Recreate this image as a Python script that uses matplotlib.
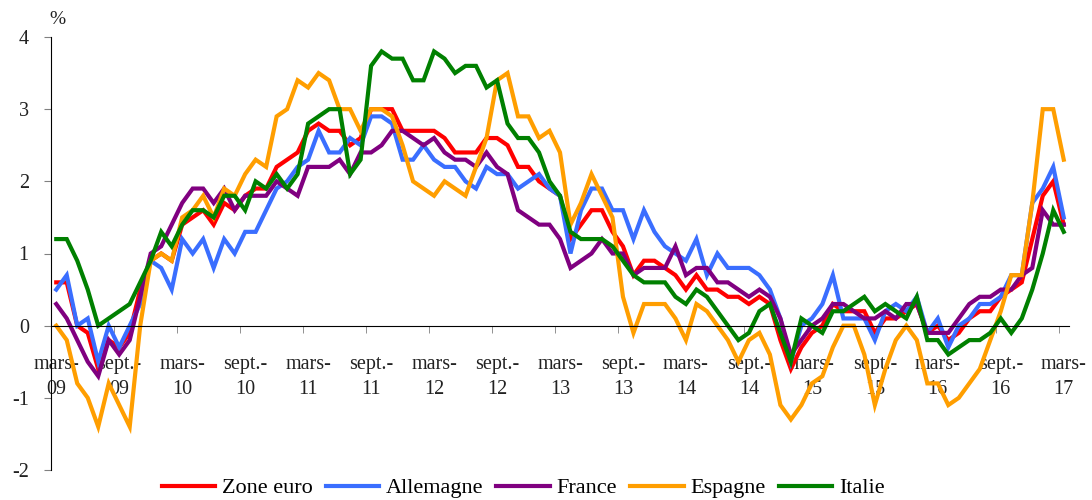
import numpy as np
import matplotlib.pyplot as plt

# monthly inflation, mars 2009 -> mars 2017
zone_euro = [0.6, 0.6, 0.0, -0.1, -0.6, -0.2, -0.3, -0.1, 0.5, 0.9,
             1.0, 0.9, 1.4, 1.5, 1.6, 1.4, 1.7, 1.6, 1.8, 1.9,
             1.9, 2.2, 2.3, 2.4, 2.7, 2.8, 2.7, 2.7, 2.5, 2.6,
             3.0, 3.0, 3.0, 2.7, 2.7, 2.7, 2.7, 2.6, 2.4, 2.4,
             2.4, 2.6, 2.6, 2.5, 2.2, 2.2, 2.0, 1.9, 1.8, 1.2,
             1.4, 1.6, 1.6, 1.3, 1.1, 0.7, 0.9, 0.9, 0.8, 0.7,
             0.5, 0.7, 0.5, 0.5, 0.4, 0.4, 0.3, 0.4, 0.3, -0.2,
             -0.6, -0.3, -0.1, 0.0, 0.3, 0.2, 0.2, 0.2, -0.1, 0.1,
             0.1, 0.2, 0.3, -0.1, 0.0, -0.2, -0.1, 0.1, 0.2, 0.2,
             0.4, 0.5, 0.6, 1.2, 1.8, 2.0, 1.4]
allemagne = [0.5, 0.7, 0.0, 0.1, -0.5, 0.0, -0.3, 0.0, 0.3, 0.9,
             0.8, 0.5, 1.2, 1.0, 1.2, 0.8, 1.2, 1.0, 1.3, 1.3,
             1.6, 1.9, 2.0, 2.2, 2.3, 2.7, 2.4, 2.4, 2.6, 2.5,
             2.9, 2.9, 2.8, 2.3, 2.3, 2.5, 2.3, 2.2, 2.2, 2.0,
             1.9, 2.2, 2.1, 2.1, 1.9, 2.0, 2.1, 1.9, 1.8, 1.0,
             1.6, 1.9, 1.9, 1.6, 1.6, 1.2, 1.6, 1.3, 1.1, 1.0,
             0.9, 1.2, 0.7, 1.0, 0.8, 0.8, 0.8, 0.7, 0.5, 0.1,
             -0.5, 0.0, 0.1, 0.3, 0.7, 0.1, 0.1, 0.1, -0.2, 0.2,
             0.3, 0.2, 0.4, -0.1, 0.1, -0.3, 0.0, 0.1, 0.3, 0.3,
             0.4, 0.7, 0.7, 1.7, 1.9, 2.2, 1.5]
france = [0.3, 0.1, -0.2, -0.5, -0.7, -0.2, -0.4, -0.2, 0.4, 1.0,
          1.1, 1.4, 1.7, 1.9, 1.9, 1.7, 1.9, 1.6, 1.8, 1.8,
          1.8, 2.0, 1.9, 1.8, 2.2, 2.2, 2.2, 2.3, 2.1, 2.4,
          2.4, 2.5, 2.7, 2.7, 2.6, 2.5, 2.6, 2.4, 2.3, 2.3,
          2.2, 2.4, 2.2, 2.1, 1.6, 1.5, 1.4, 1.4, 1.2, 0.8,
          0.9, 1.0, 1.2, 1.0, 1.0, 0.7, 0.8, 0.8, 0.8, 1.1,
          0.7, 0.8, 0.8, 0.6, 0.6, 0.5, 0.4, 0.5, 0.4, 0.1,
          -0.4, -0.2, 0.0, 0.1, 0.3, 0.3, 0.2, 0.1, 0.1, 0.2,
          0.1, 0.3, 0.3, -0.1, -0.1, -0.1, 0.1, 0.3, 0.4, 0.4,
          0.5, 0.5, 0.7, 0.8, 1.6, 1.4, 1.4]
espagne = [0.0, -0.2, -0.8, -1.0, -1.4, -0.8, -1.1, -1.4, 0.0, 0.9,
           1.0, 0.9, 1.5, 1.6, 1.8, 1.5, 1.9, 1.8, 2.1, 2.3,
           2.2, 2.9, 3.0, 3.4, 3.3, 3.5, 3.4, 3.0, 3.0, 2.7,
           3.0, 3.0, 2.9, 2.5, 2.0, 1.9, 1.8, 2.0, 1.9, 1.8,
           2.2, 2.6, 3.4, 3.5, 2.9, 2.9, 2.6, 2.7, 2.4, 1.4,
           1.7, 2.1, 1.8, 1.5, 0.4, -0.1, 0.3, 0.3, 0.3, 0.1,
           -0.2, 0.3, 0.2, 0.0, -0.2, -0.5, -0.2, -0.1, -0.4, -1.1,
           -1.3, -1.1, -0.8, -0.7, -0.3, 0.0, 0.0, -0.4, -1.1, -0.6,
           -0.2, 0.0, -0.2, -0.8, -0.8, -1.1, -1.0, -0.8, -0.6, -0.2,
           0.2, 0.7, 0.7, 1.7, 3.0, 3.0, 2.3]
italie = [1.2, 1.2, 0.9, 0.5, 0.0, 0.1, 0.2, 0.3, 0.6, 0.9,
          1.3, 1.1, 1.4, 1.6, 1.6, 1.5, 1.8, 1.8, 1.6, 2.0,
          1.9, 2.1, 1.9, 2.1, 2.8, 2.9, 3.0, 3.0, 2.1, 2.3,
          3.6, 3.8, 3.7, 3.7, 3.4, 3.4, 3.8, 3.7, 3.5, 3.6,
          3.6, 3.3, 3.4, 2.8, 2.6, 2.6, 2.4, 2.0, 1.8, 1.3,
          1.2, 1.2, 1.2, 1.1, 0.9, 0.7, 0.6, 0.6, 0.6, 0.4,
          0.3, 0.5, 0.4, 0.2, 0.0, -0.2, -0.1, 0.2, 0.3, -0.1,
          -0.5, 0.1, 0.0, -0.1, 0.2, 0.2, 0.3, 0.4, 0.2, 0.3,
          0.2, 0.1, 0.4, -0.2, -0.2, -0.4, -0.3, -0.2, -0.2, -0.1,
          0.1, -0.1, 0.1, 0.5, 1.0, 1.6, 1.3]

mois = ["mars-", "sept.-"] * 9
annees = ["09", "09", "10", "10", "11", "11", "12", "12", "13", "13",
          "14", "14", "15", "15", "16", "16", "17"]
noms = ["Zone euro", "Allemagne", "France", "Espagne", "Italie"]
couleurs = ["#FF0000", "#3A6EFF", "#800080", "#FF9E00", "#008000"]

plt.rcParams["font.family"] = ["Liberation Serif", "DejaVu Serif"]

fig = plt.figure(figsize=(10.92, 5), dpi=100)
ax = fig.add_axes([51 / 1092, 30 / 500, 1018 / 1092, 433 / 500])

x = np.arange(len(zone_euro))
series = [zone_euro, allemagne, france, espagne, italie]
for values, nom, c in zip(series, noms, couleurs):
    ax.plot(x, values, color=c, lw=3, label=nom, solid_joinstyle="miter")

ax.set_xlim(-0.5, 96.5)
ax.set_ylim(-2, 4)

# x axis crosses at zero, labels every 6 months
ax.spines["bottom"].set_position(("data", 0))
ax.spines["top"].set_visible(False)
ax.spines["right"].set_visible(False)
ax.set_xticks(x[::6])
ax.set_xticklabels([m + "\n" + a for m, a in zip(mois, annees)],
                   fontsize=14.5, linespacing=1.45, color="#222222")
ax.set_xticks(x[::6][1:] - 0.5, minor=True)
ax.tick_params(axis="x", which="major", length=0, pad=21)
ax.tick_params(axis="x", which="minor", length=5, color="#808080")

ax.set_yticks(range(-2, 5))
ax.set_yticklabels(["-2", "-1", "0", "1", "2", "3", "4"], fontsize=14.5,
                   color="#222222")
ax.tick_params(axis="y", length=5, color="#808080", pad=11)

fig.text(57 / 1092, 0.96, "%", fontsize=14, ha="center", va="center",
         color="#222222")

fig.legend(loc="center", bbox_to_anchor=(523 / 1092, 12 / 500), ncol=5,
           frameon=False, fontsize=16, handlelength=2.4,
           handletextpad=0.3, columnspacing=0.6)

plt.savefig("out.png", dpi=100)
